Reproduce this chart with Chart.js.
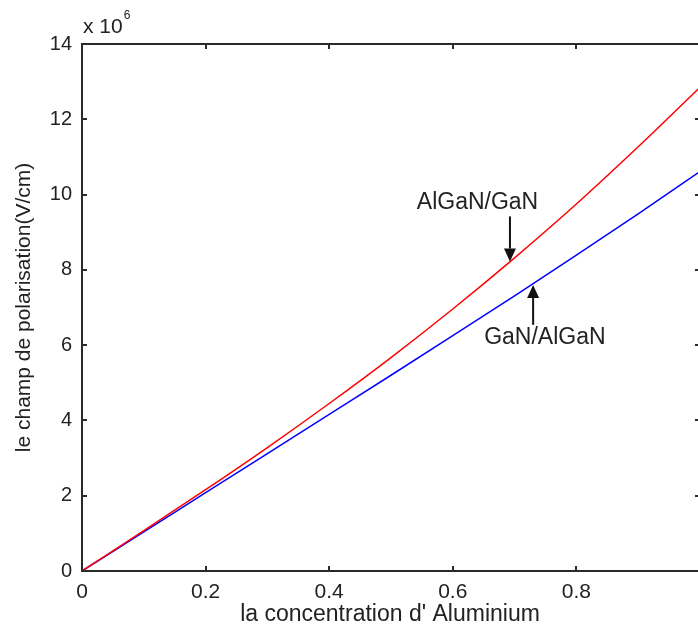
<!DOCTYPE html>
<html>
<head>
<meta charset="utf-8">
<script src="https://cdn.jsdelivr.net/npm/chart.js@4"></script>
<style>
html,body{margin:0;padding:0;background:#fff;}
#wrap{width:698px;height:627px;position:relative;}
</style>
</head>
<body>
<div id="wrap"><canvas id="c" width="698" height="627"></canvas></div>
<script>
const concentration = [0, 0.1, 0.2, 0.3, 0.4, 0.5, 0.6, 0.7, 0.8, 0.9, 1.0];
const algan_gan = [0, 1.07, 2.16, 3.28, 4.45, 5.67, 6.96, 8.32, 9.75, 11.27, 12.85];
const gan_algan = [0, 1.04, 2.08, 3.12, 4.16, 5.20, 6.25, 7.31, 8.39, 9.49, 10.61];
const yTicks = [0, 2, 4, 6, 8, 10, 12, 14];
const xTicks = [0, 0.2, 0.4, 0.6, 0.8];
const xAxisEnd = 1.0;
const xTitle = "la concentration d' Aluminium";
const yTitle = "le champ de polarisation(V/cm)";
const labelTop = "AlGaN/GaN";
const labelBottom = "GaN/AlGaN";

const FONT = "'Liberation Sans', Arial, sans-serif";

const annotations = [
  {text: labelTop, tx: 0.64, ty: 9.78, ax: 0.6925, from: 9.42, to: 8.22},
  {text: labelBottom, tx: 0.749, ty: 6.19, ax: 0.73, from: 6.54, to: 7.60}
];

const framePlugin = {
  id: 'frame',
  afterDatasetsDraw(chart) {
    const ctx = chart.ctx;
    const a = chart.chartArea;
    const xs = chart.scales.x, ys = chart.scales.y;
    const right = xs.getPixelForValue(xAxisEnd);
    ctx.save();
    ctx.strokeStyle = '#2a2a2a';
    ctx.lineWidth = 2;
    ctx.beginPath();
    ctx.moveTo(right + 2, a.top); ctx.lineTo(a.left, a.top);
    ctx.lineTo(a.left, a.bottom); ctx.lineTo(right + 2, a.bottom);
    ctx.stroke();
    const tl = 5;
    ctx.beginPath();
    yTicks.forEach(v => {
      const py = Math.round(ys.getPixelForValue(v));
      ctx.moveTo(a.left, py); ctx.lineTo(a.left + tl, py);
      ctx.moveTo(right, py); ctx.lineTo(right - tl, py);
    });
    xTicks.forEach(v => {
      const px = Math.round(xs.getPixelForValue(v));
      ctx.moveTo(px, a.bottom); ctx.lineTo(px, a.bottom - tl);
      ctx.moveTo(px, a.top); ctx.lineTo(px, a.top + tl);
    });
    ctx.stroke();

    // exponent label
    ctx.fillStyle = '#222';
    ctx.font = '21px ' + FONT;
    ctx.textBaseline = 'alphabetic';
    ctx.textAlign = 'left';
    ctx.fillText('x 10', a.left + 1, 33);
    const w = ctx.measureText('x 10').width;
    ctx.font = '12px ' + FONT;
    ctx.fillText('6', a.left + 1 + w + 1, 19);

    // annotations
    annotations.forEach(an => {
      ctx.font = '23px ' + FONT;
      ctx.textAlign = 'center';
      ctx.textBaseline = 'middle';
      ctx.fillStyle = '#222';
      ctx.fillText(an.text, xs.getPixelForValue(an.tx), ys.getPixelForValue(an.ty));
      const px = xs.getPixelForValue(an.ax);
      const y0 = ys.getPixelForValue(an.from);
      const y1 = ys.getPixelForValue(an.to);
      const dir = y1 > y0 ? 1 : -1;
      const hl = 13, hw = 6;
      ctx.strokeStyle = '#111';
      ctx.lineWidth = 2;
      ctx.beginPath();
      ctx.moveTo(px, y0);
      ctx.lineTo(px, y1 - dir * hl);
      ctx.stroke();
      ctx.fillStyle = '#111';
      ctx.beginPath();
      ctx.moveTo(px, y1);
      ctx.lineTo(px - hw, y1 - dir * hl);
      ctx.lineTo(px + hw, y1 - dir * hl);
      ctx.closePath();
      ctx.fill();
    });
    ctx.restore();
  }
};

new Chart(document.getElementById('c'), {
  type: 'line',
  data: {
    datasets: [
      {label: labelTop, data: concentration.map((x, i) => ({x, y: algan_gan[i]})), borderColor: '#ff0000', borderWidth: 1.5, pointRadius: 0, cubicInterpolationMode: 'monotone', fill: false},
      {label: labelBottom, data: concentration.map((x, i) => ({x, y: gan_algan[i]})), borderColor: '#0000ff', borderWidth: 1.5, pointRadius: 0, cubicInterpolationMode: 'monotone', fill: false}
    ]
  },
  options: {
    responsive: false,
    animation: false,
    events: [],
    layout: {padding: {top: 44, right: 0, left: 0, bottom: 0}},
    plugins: {legend: {display: false}, tooltip: {enabled: false}},
    scales: {
      x: {
        type: 'linear', min: 0, max: 0.9968,
        afterFit(s) { s.height = 56; s.paddingRight = 0; s.paddingLeft = 0; },
        afterBuildTicks(s) { s.ticks = xTicks.map(v => ({value: v})); },
        grid: {display: false, drawTicks: false},
        border: {display: false},
        ticks: {
          padding: 9, color: '#222', font: {size: 21, family: FONT},
          maxRotation: 0, autoSkip: false,
          callback: v => String(v)
        },
        title: {display: true, text: xTitle, color: '#222', font: {size: 23, family: FONT}, padding: {top: 0, bottom: -1}}
      },
      y: {
        type: 'linear', min: 0, max: 14,
        afterFit(s) { s.width = 82; },
        afterBuildTicks(s) { s.ticks = yTicks.map(v => ({value: v})); },
        grid: {display: false, drawTicks: false},
        border: {display: false},
        ticks: {padding: 10, color: '#222', font: {size: 20, family: FONT}, autoSkip: false},
        title: {display: true, text: yTitle, color: '#222', font: {size: 21, family: FONT}, padding: {top: 12, bottom: 0}}
      }
    }
  },
  plugins: [framePlugin]
});
</script>
</body>
</html>
